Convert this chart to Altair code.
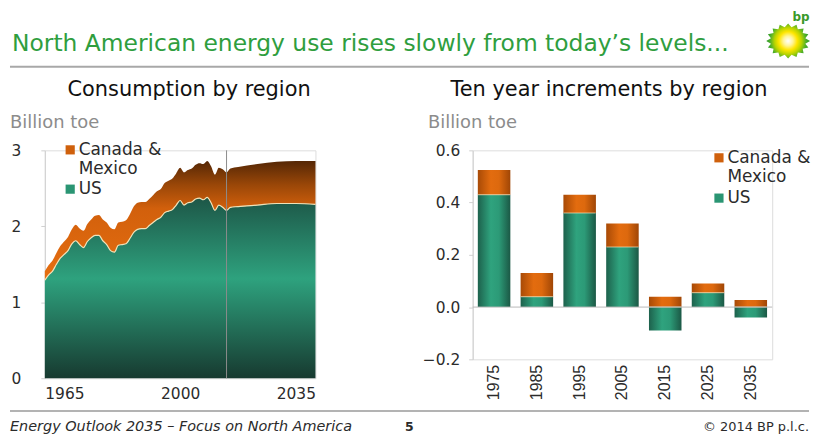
import math
import altair as alt
import pandas as pd

# ---------------- data ----------------
years = [1965, 1966, 1967, 1968, 1969, 1970, 1971, 1972, 1973, 1974,
         1975, 1976, 1977, 1978, 1979, 1980, 1981, 1982, 1983, 1984,
         1985, 1986, 1987, 1988, 1989, 1990, 1991, 1992, 1993, 1994,
         1995, 1996, 1997, 1998, 1999, 2000, 2001, 2002, 2003, 2004,
         2005, 2006, 2007, 2008, 2009, 2010, 2011, 2012, 2013,
         2015, 2020, 2025, 2030, 2035]
us_consumption = [1.29, 1.36, 1.41, 1.50, 1.58, 1.63, 1.68, 1.77, 1.81, 1.76,
                  1.72, 1.80, 1.85, 1.88, 1.88, 1.81, 1.76, 1.68, 1.66, 1.75,
                  1.76, 1.77, 1.84, 1.92, 1.96, 1.97, 1.97, 2.01, 2.05, 2.09,
                  2.12, 2.18, 2.20, 2.22, 2.28, 2.34, 2.28, 2.31, 2.32, 2.36,
                  2.37, 2.35, 2.38, 2.31, 2.21, 2.28, 2.25, 2.21, 2.25,
                  2.26, 2.28, 2.30, 2.30, 2.29]
cm_consumption = [0.12, 0.13, 0.14, 0.15, 0.16, 0.17, 0.18, 0.19, 0.21, 0.21,
                  0.22, 0.23, 0.24, 0.26, 0.27, 0.28, 0.29, 0.30, 0.30, 0.30,
                  0.30, 0.31, 0.32, 0.34, 0.35, 0.35, 0.35, 0.35, 0.36, 0.37,
                  0.37, 0.39, 0.40, 0.41, 0.42, 0.43, 0.43, 0.43, 0.44, 0.45,
                  0.46, 0.47, 0.48, 0.48, 0.47, 0.49, 0.50, 0.50, 0.51,
                  0.52, 0.54, 0.55, 0.56, 0.57]
last_history_year = [2012]

increment_years = ["1975", "1985", "1995", "2005", "2015", "2025", "2035"]
us_increment = [0.43, 0.04, 0.36, 0.23, -0.09, 0.055, -0.04]
cm_increment = [0.095, 0.09, 0.07, 0.09, 0.04, 0.035, 0.027]

series_names = ["Canada & Mexico", "US"]
legend_colors = ["#cf600c", "#2a9573"]
left_x_ticks = [1965, 2000, 2035]
left_y_ticks = [0, 1, 2, 3]
right_y_ticks = [-0.2, 0.0, 0.2, 0.4, 0.6]

# ---------------- styles ----------------
FONT = "DejaVu Sans"
NARROW = "Liberation Sans Narrow, Liberation Sans"
TXT = "#2b2b2b"


def vgrad(stops):
    return {"gradient": "linear", "x1": 0, "y1": 0, "x2": 0, "y2": 1,
            "stops": [{"offset": o, "color": c} for o, c in stops]}


def hgrad(stops):
    return {"gradient": "linear", "x1": 0, "y1": 0, "x2": 1, "y2": 0,
            "stops": [{"offset": o, "color": c} for o, c in stops]}


green_area = vgrad([(0, "#1d5647"), (0.45, "#2ea27e"), (1, "#173a30")])
orange_area = vgrad([(0, "#552705"), (0.2, "#9a4708"), (0.4, "#d2600c"), (1, "#e66e10")])
green_bar = hgrad([(0, "#1d614c"), (0.4, "#2fa37e"), (0.65, "#2c9a77"), (1, "#1b5845")])
orange_bar = hgrad([(0, "#a84a06"), (0.4, "#e36c0f"), (0.65, "#dd690e"), (1, "#a04606")])

label_expr = "datum.label == 'Canada & Mexico' ? ['Canada &', 'Mexico'] : datum.label"

one = alt.Data(values=[{"k": 0}])


def text_at(txt, x, y, size, color=TXT, align="left", weight="normal", style="normal",
            font=FONT, baseline="middle"):
    return alt.Chart(one).mark_text(
        text=txt, align=align, baseline=baseline, font=font, fontSize=size,
        color=color, fontWeight=weight, fontStyle=style
    ).encode(x=alt.value(x), y=alt.value(y))


def legend_layer(lx, ly, row_pad):
    return alt.Chart(pd.DataFrame({"series": series_names})).mark_square(opacity=0, size=1).encode(
        color=alt.Color(
            "series:N",
            scale=alt.Scale(domain=series_names, range=legend_colors),
            legend=alt.Legend(
                title=None, orient="none", legendX=lx, legendY=ly, padding=0,
                symbolType="square", symbolSize=85, symbolOpacity=1, symbolStrokeWidth=0,
                labelFont=FONT, labelFontSize=17, labelColor=TXT, labelOffset=0,
                labelExpr=label_expr, rowPadding=row_pad, labelLimit=300,
            ),
        )
    )


# ---------------- left panel ----------------
cons = pd.DataFrame({"year": years, "us": us_consumption, "cm": cm_consumption})
cbase = alt.Chart(cons).transform_calculate(total="datum.us + datum.cm")

x_left = alt.X(
    "year:Q", title=None,
    scale=alt.Scale(domain=[1965, 2035], nice=False, zero=False),
    axis=alt.Axis(values=left_x_ticks, format="d", domain=False, ticks=False, grid=False,
                  labelPadding=8, labelFont=FONT, labelFontSize=15.5, labelColor=TXT),
)
y_left = alt.Y(
    "us:Q", title=None, scale=alt.Scale(domain=[0, 3], nice=False),
    axis=alt.Axis(values=left_y_ticks, format="d", grid=False, domainColor="#d0d0d0",
                  tickColor="#d0d0d0", tickSize=4, labelPadding=20,
                  labelFont=FONT, labelFontSize=15.5, labelColor=TXT),
)

us_area = cbase.mark_area(color=green_area, interpolate="monotone").encode(x=x_left, y=y_left)
cm_area = cbase.mark_area(color=orange_area, interpolate="monotone").encode(
    x="year:Q", y=alt.Y("total:Q", title=None), y2="us:Q")
boundary = cbase.mark_line(color="#efe2b8", strokeWidth=1.2, interpolate="monotone").encode(
    x="year:Q", y=alt.Y("us:Q", title=None))
history_rule = alt.Chart(pd.DataFrame({"year": last_history_year})).mark_rule(
    color="#8c8c8c", strokeWidth=1).encode(x="year:Q", y=alt.datum(0), y2=alt.datum(3))

# logo (starburst)
pts = []
n_spikes = 16
for i in range(2 * n_spikes):
    r = 1.0 if i % 2 == 0 else 0.8
    a = math.pi * i / n_spikes
    pts.append((r * math.cos(a), 0.8 * r * math.sin(a)))
logo_path = "M" + " L".join(f"{px:.3f},{py:.3f}" for px, py in pts) + " Z"
logo_fill = {"gradient": "radial", "x1": 0.5, "y1": 0.5, "r1": 0, "x2": 0.5, "y2": 0.5, "r2": 0.5,
             "stops": [{"offset": 0, "color": "#ffffff"}, {"offset": 0.22, "color": "#fff59a"},
                       {"offset": 0.42, "color": "#ffe600"}, {"offset": 0.62, "color": "#b9d400"},
                       {"offset": 0.82, "color": "#4fb02a"}, {"offset": 1, "color": "#2a9626"}]}
logo = alt.Chart(one).mark_point(shape=logo_path, size=1936, filled=True, color=logo_fill,
                                 opacity=1, strokeWidth=0).encode(x=alt.value(747), y=alt.value(-110))

corner = alt.Chart(one).mark_rect(opacity=0).encode(
    x=alt.value(-35), x2=alt.value(-33), y=alt.value(-141), y2=alt.value(-139))
header_line = alt.Chart(one).mark_rule(color="#a8a8a8", strokeWidth=2).encode(
    x=alt.value(-35), x2=alt.value(768), y=alt.value(-84))
footer_line = alt.Chart(one).mark_rule(color="#9a9a9a", strokeWidth=1.5).encode(
    x=alt.value(-35), x2=alt.value(768), y=alt.value(262))

left = alt.layer(
    us_area, cm_area, boundary, history_rule,
    legend_layer(17, -9, 2.5),
    corner,
    text_at("North American energy use rises slowly from today\u2019s levels...", -33, -107, 23.5, color="#2f9e3e"),
    header_line,
    logo,
    text_at("bp", 760, -134, 12, color="#3a9a2a", align="center", weight="bold"),
    text_at("Consumption by region", 145, -61, 21, color="#111111", align="center"),
    text_at("Billion toe", -35, -27, 18, color="#8c8c8c"),
    footer_line,
    text_at("Energy Outlook 2035 \u2013 Focus on North America", -35, 282, 14.5, style="italic",
            baseline="alphabetic"),
    text_at("5", 362, 282, 12.5, weight="bold", baseline="alphabetic"),
    text_at("\u00a9 2014 BP p.l.c.", 768, 282, 13, align="right", baseline="alphabetic"),
).properties(width=272, height=229)

# ---------------- right panel ----------------
inc = pd.DataFrame({"year": increment_years, "us": us_increment, "cm": cm_increment})
rbase = alt.Chart(inc).transform_calculate(
    base="max(datum.us, 0)", top="max(datum.us, 0) + datum.cm")

x_right = alt.X(
    "year:N", title=None,
    scale=alt.Scale(paddingInner=0.24, paddingOuter=0.12),
    axis=alt.Axis(labelAngle=-90, labelFont=NARROW, labelFontSize=16, labelColor=TXT,
                  domain=False, ticks=False, labelPadding=5),
)
y_right = alt.Y(
    "us:Q", title=None, scale=alt.Scale(domain=[-0.2, 0.6], nice=False),
    axis=alt.Axis(values=right_y_ticks, format=".1f", grid=False, domainColor="#d0d0d0",
                  tickColor="#d0d0d0", tickSize=4, labelPadding=9,
                  labelFont=FONT, labelFontSize=15.5, labelColor=TXT),
)

zero_rule = alt.Chart(one).mark_rule(color="#b8b8b8", strokeWidth=1).encode(y=alt.datum(0))
us_bars = rbase.mark_bar(color=green_bar).encode(x=x_right, y=y_right)
cm_bars = rbase.mark_bar(color=orange_bar).encode(
    x="year:N", y=alt.Y("top:Q", title=None), y2="base:Q")
junction = rbase.mark_tick(color="#f1e4ba", thickness=1, size=32).encode(
    x="year:N", y=alt.Y("base:Q", title=None))

right = alt.layer(
    us_bars, cm_bars, junction, zero_rule,
    legend_layer(239, -1, 3.5),
    text_at("Ten year increments by region", 137, -61, 21, color="#111111", align="center"),
    text_at("Billion toe", -45, -27, 18, color="#8c8c8c"),
).properties(width=301, height=210)

chart = alt.hconcat(left, right, spacing=158, bounds="flush").resolve_scale(
    color="independent").resolve_legend(color="independent").properties(
    padding=0, background="white").configure_view(strokeWidth=0).configure(font=FONT)

chart.save("out.html", embed_options={"renderer": "svg", "actions": False})
